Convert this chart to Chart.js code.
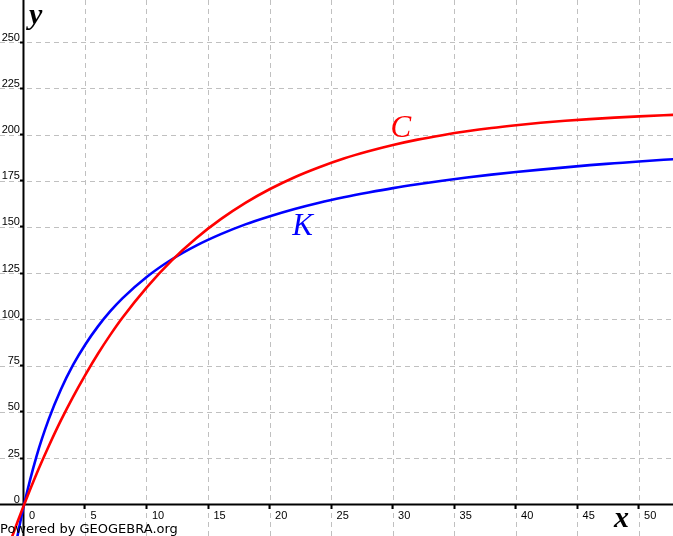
<!DOCTYPE html>
<html>
<head>
<meta charset="utf-8">
<script src="https://cdn.jsdelivr.net/npm/chart.js@4/dist/chart.umd.min.js"></script>
<style>
html,body{margin:0;padding:0;background:#fff;overflow:hidden;}
canvas{display:block;}
</style>
</head>
<body>
<canvas id="c" width="673" height="536"></canvas>
<script>
const xValues = [-1, -0.5, 0, 1, 2, 3, 4, 5, 6, 7, 8, 10, 12, 14, 16, 18, 20, 22, 24, 26, 28, 30, 32, 34, 36, 38, 40, 42, 44, 46, 48, 50, 52, 54];
// red curve C
const cValues = [-17.8, -8.7, 0, 16.5, 31.6, 45.7, 58.6, 70.5, 81.6, 91.8, 101.2, 117.8, 132.1, 144.2, 154.5, 163.3, 170.8, 177.2, 182.6, 187.3, 191.2, 194.6, 197.5, 199.9, 202.0, 203.8, 205.3, 206.6, 207.7, 208.6, 209.4, 210.1, 210.7, 211.2];
// blue curve K
const kValues = [-34.2, -15.8, 0, 25.9, 46.1, 62.4, 75.8, 86.9, 96.4, 104.6, 111.7, 123.4, 132.7, 140.2, 146.4, 151.7, 156.1, 160.0, 163.4, 166.3, 168.9, 171.3, 173.4, 175.3, 177.0, 178.6, 180.0, 181.3, 182.5, 183.7, 184.7, 185.7, 186.6, 187.4];
// tick labels
const xTickLabels = ['0','5','10','15','20','25','30','35','40','45','50'];
const yTickLabels = ['0','25','50','75','100','125','150','175','200','225','250'];
// curve names
const seriesNames = ['C', 'K'];

const toPts = (xs, ys) => xs.map((x, i) => ({x: x, y: ys[i]}));

const axisPlugin = {
  id: 'ggbAxes',
  beforeDatasetsDraw(chart) {
    const ctx = chart.ctx;
    const xs = chart.scales.x, ys = chart.scales.y;
    const ca = chart.chartArea;
    const x0 = xs.getPixelForValue(0), y0 = ys.getPixelForValue(0);
    ctx.save();
    ctx.strokeStyle = '#000';
    ctx.lineWidth = 2;
    ctx.beginPath();
    ctx.moveTo(ca.left, y0 - 0.5); ctx.lineTo(ca.right, y0 - 0.5);
    ctx.moveTo(x0 - 0.5, ca.top); ctx.lineTo(x0 - 0.5, ca.bottom);
    ctx.stroke();
    // tick marks
    ctx.beginPath();
    xTickLabels.forEach(l => {
      const v = parseFloat(l);
      if (v === 0) return;
      const p = Math.round(xs.getPixelForValue(v)) - 0.5;
      ctx.moveTo(p, y0); ctx.lineTo(p, y0 + 4);
    });
    yTickLabels.forEach(l => {
      const v = parseFloat(l);
      if (v === 0) return;
      const p = Math.round(ys.getPixelForValue(v)) - 0.5;
      ctx.moveTo(x0, p); ctx.lineTo(x0 - 4, p);
    });
    ctx.stroke();
    ctx.restore();
  },
  afterDatasetsDraw(chart) {
    const ctx = chart.ctx;
    const xs = chart.scales.x, ys = chart.scales.y;
    const ca = chart.chartArea;
    const x0 = xs.getPixelForValue(0), y0 = ys.getPixelForValue(0);
    ctx.save();
    ctx.fillStyle = '#000';
    ctx.font = '11px "Liberation Sans", Arial, sans-serif';
    ctx.textAlign = 'left';
    ctx.textBaseline = 'middle';
    xTickLabels.forEach(l => {
      const p = xs.getPixelForValue(parseFloat(l));
      ctx.fillText(l, p + 5, y0 + 11);
    });
    ctx.textAlign = 'right';
    ctx.textBaseline = 'alphabetic';
    yTickLabels.forEach(l => {
      const p = ys.getPixelForValue(parseFloat(l));
      ctx.fillText(l, x0 - 4, p - 2);
    });
    // axis names
    ctx.textAlign = 'left';
    ctx.font = 'italic bold 30px "Liberation Serif", "DejaVu Serif", serif';
    ctx.fillText('y', x0 + 5, ca.top + 24);
    ctx.fillText('x', 614, y0 + 22);
    // curve names
    ctx.font = 'italic 31px "Liberation Serif", "DejaVu Serif", serif';
    ctx.fillStyle = '#ff0000';
    ctx.fillText(seriesNames[0], xs.getPixelForValue(29.8), ys.getPixelForValue(199));
    ctx.fillStyle = '#0000ff';
    ctx.fillText(seriesNames[1], xs.getPixelForValue(21.8), ys.getPixelForValue(146));
    // footer
    ctx.fillStyle = '#000';
    ctx.font = '13px "DejaVu Sans", sans-serif';
    ctx.textBaseline = 'alphabetic';
    ctx.fillText('Powered by GEOGEBRA.org', 0, ca.bottom - 3);
    ctx.restore();
  }
};

const gridOpts = {color: '#c0c0c0', lineWidth: 1, drawTicks: false, borderDash: [4, 4]};

new Chart(document.getElementById('c'), {
  type: 'line',
  data: {
    datasets: [
      {label: seriesNames[0], data: toPts(xValues, cValues), borderColor: '#ff0000', borderWidth: 2.6, pointRadius: 0, fill: false, cubicInterpolationMode: 'monotone'},
      {label: seriesNames[1], data: toPts(xValues, kValues), borderColor: '#0000ff', borderWidth: 2.6, pointRadius: 0, fill: false, cubicInterpolationMode: 'monotone'}
    ]
  },
  options: {
    responsive: false,
    animation: false,
    devicePixelRatio: 1,
    layout: {padding: 0},
    plugins: {legend: {display: false}, tooltip: {enabled: false}},
    scales: {
      x: {
        type: 'linear', min: -1.95, max: 52.76,
        ticks: {display: false, stepSize: 5, includeBounds: false},
        grid: gridOpts,
        border: {display: false, dash: [5, 4]},
        afterFit(s) { s.height = 0; }
      },
      y: {
        type: 'linear', min: -16.8, max: 273,
        ticks: {display: false, stepSize: 25, includeBounds: false},
        grid: gridOpts,
        border: {display: false, dash: [5, 4]},
        afterFit(s) { s.width = 0; }
      }
    }
  },
  plugins: [axisPlugin]
});
</script>
</body>
</html>
